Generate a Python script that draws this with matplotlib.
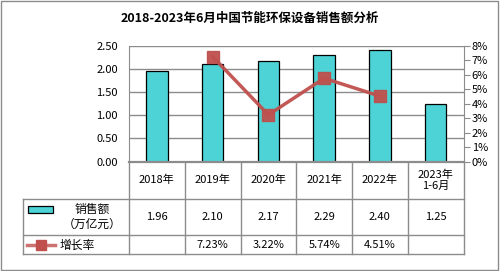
import matplotlib
matplotlib.use("Agg")
import matplotlib.pyplot as plt
from matplotlib.patches import Rectangle

plt.rcParams['font.family'] = ['Noto Sans CJK SC', 'DejaVu Sans']

categories = ["2018年", "2019年", "2020年", "2021年", "2022年", "2023年\n1-6月"]
sales = [1.96, 2.10, 2.17, 2.29, 2.40, 1.25]
growth = [None, 7.23, 3.22, 5.74, 4.51, None]
sales_labels = ["1.96", "2.10", "2.17", "2.29", "2.40", "1.25"]
growth_labels = ["", "7.23%", "3.22%", "5.74%", "4.51%", ""]
left_ticks = [0, 0.5, 1.0, 1.5, 2.0, 2.5]
right_ticks = [0, 1, 2, 3, 4, 5, 6, 7, 8]
title = "2018-2023年6月中国节能环保设备销售额分析"

W, H = 500, 271
BAR = "#4DD3D5"
LINE = "#C0504D"
GRID = "#8C8C8C"

fig = plt.figure(figsize=(W / 100, H / 100), dpi=100)

x0, x1 = 129, 463.5
y_top, y_bot = 45.5, 161.5
ax = fig.add_axes([x0 / W, 1 - y_bot / H, (x1 - x0) / W, (y_bot - y_top) / H])
n = len(categories)
xs = list(range(n))
ax.bar(xs, sales, width=0.39, color=BAR, edgecolor="black", linewidth=0.9, zorder=3)
ax.set_xlim(-0.5, n - 0.5)
ax.set_ylim(0, 2.5)
ax.set_yticks(left_ticks)
ax.set_yticklabels([f"{v:.2f}" for v in left_ticks], fontsize=8)
ax.set_xticks([])
ax.grid(axis="y", color=GRID, linewidth=1, zorder=0)
ax.tick_params(axis="y", length=0, pad=8)
for s in ["top", "right", "bottom"]:
    ax.spines[s].set_visible(False)
ax.spines["left"].set_color(GRID)

ax2 = ax.twinx()
gx = [i for i, g in enumerate(growth) if g is not None]
gy = [g for g in growth if g is not None]
ax2.plot(gx, gy, color=LINE, linewidth=2.5, marker="s", markersize=8,
         markerfacecolor=LINE, markeredgecolor="#B9514E", zorder=4, alpha=0.95)
ax2.set_ylim(0, 8)
ax2.set_yticks(right_ticks)
ax2.set_yticklabels([f"{v}%" for v in right_ticks], fontsize=8)
ax2.tick_params(axis="y", length=4, color=GRID, pad=2)
for s in ["top", "left", "bottom"]:
    ax2.spines[s].set_visible(False)
ax2.spines["right"].set_color(GRID)

# overlay for table, title, border
ov = fig.add_axes([0, 0, 1, 1])
ov.set_xlim(0, W)
ov.set_ylim(H, 0)
ov.axis("off")
ov.patch.set_alpha(0)

ov.text(250, 18, title, ha="center", va="center", fontsize=9, fontweight="bold")
ov.add_patch(Rectangle((1, 1), W - 3, H - 2.5, fill=False, edgecolor="#8C8C8C", linewidth=1))

colw = (x1 - x0) / n
lx = 23
r0, r1, r2, r3 = 161.5, 199, 235, 254
lc = "#8C8C8C"
ov.plot([x0, x1], [r0, r0], color=lc, linewidth=1.6)
for yy in (r1, r2, r3):
    ov.plot([lx, x1], [yy, yy], color=lc, linewidth=1)
for i in range(n + 1):
    ov.plot([x0 + i * colw] * 2, [r0, r3], color=lc, linewidth=1)
ov.plot([lx, lx], [r1, r3], color=lc, linewidth=1)

for i in range(n):
    cx = x0 + (i + 0.5) * colw
    ov.text(cx, (r0 + r1) / 2, categories[i], ha="center", va="center", fontsize=8,
            linespacing=1.2)
    ov.text(cx, (r1 + r2) / 2, sales_labels[i], ha="center", va="center", fontsize=8)
    ov.text(cx, (r2 + r3) / 2, growth_labels[i], ha="center", va="center", fontsize=8)

ov.add_patch(Rectangle((28, 205.7), 25, 7, facecolor=BAR, edgecolor="black", linewidth=0.9))
ov.text(92, 209, "销售额", ha="center", va="center", fontsize=8.5)
ov.text(92, 224, "（万亿元）", ha="center", va="center", fontsize=8.5)
ov.plot([27, 55], [245, 245], color=LINE, linewidth=2.5, alpha=0.8)
ov.plot([41], [245], marker="s", markersize=7.5, color=LINE)
ov.text(60, 245, "增长率", ha="left", va="center", fontsize=8.5)

fig.savefig("out.png", dpi=100)
